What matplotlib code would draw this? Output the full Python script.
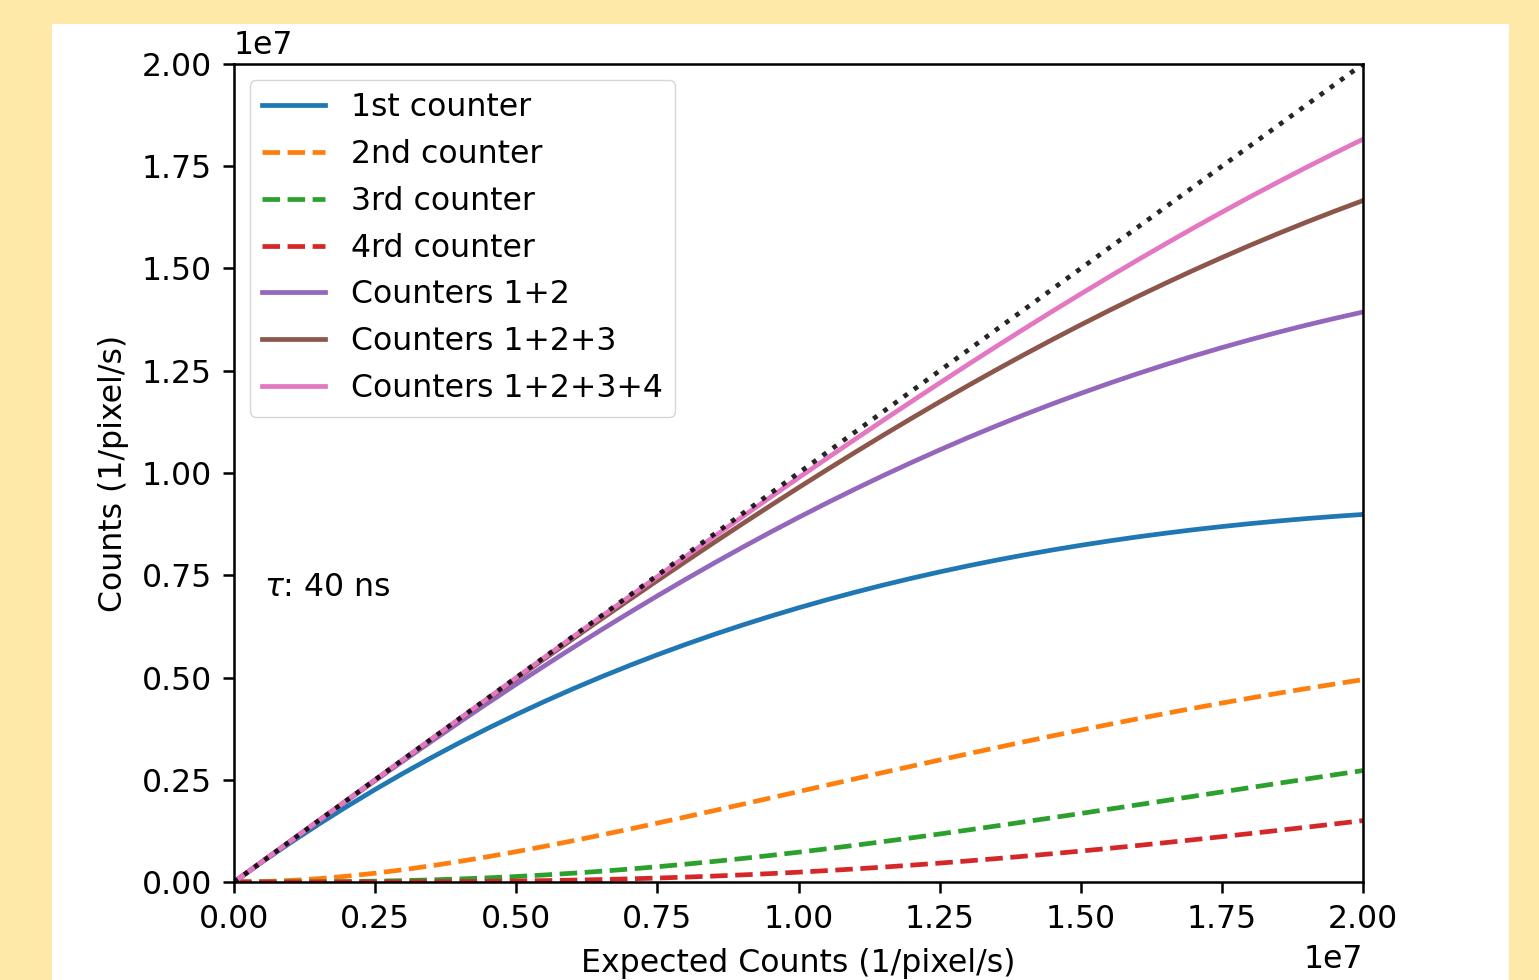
import numpy as np
import matplotlib
matplotlib.use("Agg")
import matplotlib.pyplot as plt
from matplotlib.patches import Rectangle
from matplotlib.transforms import ScaledTranslation

# Expected count rate (units of 1e7 per pixel per second)
expected = [0.00, 0.05, 0.10, 0.15, 0.20, 0.25, 0.30, 0.35, 0.40, 0.45, 0.50,
            0.55, 0.60, 0.65, 0.70, 0.75, 0.80, 0.85, 0.90, 0.95, 1.00,
            1.05, 1.10, 1.15, 1.20, 1.25, 1.30, 1.35, 1.40, 1.45, 1.50,
            1.55, 1.60, 1.65, 1.70, 1.75, 1.80, 1.85, 1.90, 1.95, 2.00]

# Registered rate of each counter (units of 1e7)
counter1 = [0.0, 0.04901, 0.0961, 0.14126, 0.1846, 0.22621, 0.2661, 0.30428,
            0.3409, 0.37587, 0.4094, 0.44139, 0.4720, 0.50118, 0.5290, 0.55561,
            0.5809, 0.60500, 0.6279, 0.64967, 0.6703, 0.68990, 0.7084, 0.72598,
            0.7425, 0.75816, 0.7729, 0.78671, 0.7997, 0.81185, 0.8232, 0.83381,
            0.8437, 0.85280, 0.8613, 0.86902, 0.8762, 0.88266, 0.8886, 0.89389,
            0.8987]
counter2 = [0.0, 0.00097, 0.00377, 0.00823, 0.01419, 0.02153, 0.03009, 0.03975,
            0.05041, 0.06192, 0.07421, 0.08717, 0.10071, 0.11474, 0.12919,
            0.14400, 0.15908, 0.17438, 0.18983, 0.20539, 0.22098, 0.23660,
            0.25216, 0.26768, 0.28306, 0.29831, 0.31340, 0.32826, 0.34290,
            0.35730, 0.37142, 0.38527, 0.39883, 0.41203, 0.42495, 0.43748,
            0.44971, 0.46153, 0.47303, 0.48413, 0.49489]
counter3 = [0.0, 0.00002, 0.00015, 0.00048, 0.00109, 0.00205, 0.00340, 0.00519,
            0.00745, 0.01020, 0.01345, 0.01721, 0.02149, 0.02627, 0.03155,
            0.03732, 0.04356, 0.05026, 0.05739, 0.06493, 0.07285, 0.08114,
            0.08976, 0.09870, 0.10791, 0.11738, 0.12708, 0.13697, 0.14703,
            0.15725, 0.16758, 0.17802, 0.18853, 0.19907, 0.20966, 0.22023,
            0.23081, 0.24133, 0.25181, 0.26220, 0.27252]
counter4 = [0.0, 0.0000004, 0.000006, 0.00003, 0.00008, 0.00020, 0.00038,
            0.00068, 0.00110, 0.00168, 0.00244, 0.00340, 0.00459, 0.00601,
            0.00771, 0.00967, 0.01193, 0.01449, 0.01735, 0.02053, 0.02402,
            0.02783, 0.03195, 0.03639, 0.04114, 0.04618, 0.05153, 0.05715,
            0.06305, 0.06921, 0.07561, 0.08225, 0.08912, 0.09618, 0.10344,
            0.11087, 0.11846, 0.12619, 0.13405, 0.14201, 0.15007]

labels = ["1st counter", "2nd counter", "3rd counter", "4rd counter",
          "Counters 1+2", "Counters 1+2+3", "Counters 1+2+3+4"]
tau_label = r"$\tau$: 40 ns"

scale = 1e7
x = np.array(expected) * scale
c = np.array([counter1, counter2, counter3, counter4]) * scale
cum = np.cumsum(c, axis=0)

S = 2.27          # overall size factor relative to matplotlib defaults
FS = 10 * S
LW = 1.5 * S
plt.rcParams.update({
    "font.family": ["DejaVu Sans"],
    "font.size": FS,
    "axes.linewidth": 0.8 * S,
    "xtick.major.width": 0.8 * S,
    "ytick.major.width": 0.8 * S,
    "xtick.major.size": 3.5 * S,
    "ytick.major.size": 3.5 * S,
    "xtick.major.pad": 3.5 * S,
    "ytick.major.pad": 3.5 * S,
    "axes.labelpad": 4 * S,
    "legend.fontsize": FS,
    "legend.edgecolor": "0.8",
})

fig = plt.figure(figsize=(15.39, 9.8), dpi=100)
fig.patch.set_facecolor("#FFE9A8")
fig.patches.append(Rectangle((52 / 1539, 0), (1509 - 52) / 1539, (980 - 24) / 980,
                             transform=fig.transFigure, facecolor="white",
                             edgecolor="none", zorder=-10))

ax = fig.add_axes([234 / 1539, 1 - 882 / 980, (1363 - 234) / 1539, (882 - 64) / 980])

ax.plot(x, c[0], color="C0", lw=LW, label=labels[0])
ax.plot(x, c[1], "--", color="C1", lw=LW, label=labels[1])
ax.plot(x, c[2], "--", color="C2", lw=LW, label=labels[2])
ax.plot(x, c[3], "--", color="C3", lw=LW, label=labels[3])
ax.plot(x, cum[1], color="C4", lw=LW, label=labels[4])
ax.plot(x, cum[2], color="C5", lw=LW, label=labels[5])
ax.plot(x, cum[3], color="C6", lw=LW, label=labels[6])
ax.plot([x[0], x[-1]], [x[0], x[-1]], ":", color="k", lw=LW, alpha=0.85)

ax.set_xlim(0, 2e7)
ax.set_ylim(0, 2e7)
ax.set_xticks(np.arange(0, 2.01e7, 0.25e7))
ax.set_yticks(np.arange(0, 2.01e7, 0.25e7))
ax.set_xlabel("Expected Counts (1/pixel/s)")
ax.set_ylabel("Counts (1/pixel/s)")
ax.text(0.027, 0.36, tau_label, transform=ax.transAxes, va="center", ha="left")
ax.legend(loc="upper left")

# nudge the scientific-notation offset labels slightly
yoff = ax.yaxis.get_offset_text()
yoff.set_transform(yoff.get_transform() + ScaledTranslation(0, 0.06, fig.dpi_scale_trans))
xoff = ax.xaxis.get_offset_text()
xoff.set_transform(xoff.get_transform() + ScaledTranslation(0, -0.05, fig.dpi_scale_trans))

fig.savefig("out.png", dpi=100, facecolor=fig.get_facecolor())
